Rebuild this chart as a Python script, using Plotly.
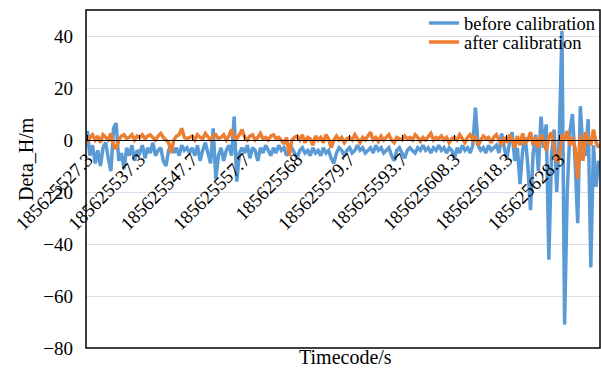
import plotly.graph_objects as go

tick_labels = ["185625527.3", "185625537.3", "185625547.7", "185625557.7", "185625568",
               "185625579.7", "185625593.7", "185625608.3", "185625618.3", "185625628.3"]
label_step = 20

before_calibration = [
    3.5, -6, -2, -9, -4, -10, -3, -1, -7, -12, 4.5, 6.5, -8, -5, -11, -3, -6, -2, -8, -4,
    -5, -2, -7, -3, -5, -1, -6, -4, -3, -8, -10, -4, -2, -5, -3, -6, -2, -4, -3, -5,
    -3, -6, -2, -8, -4, -1, -5, -9, 4.5, -15, -6, -3, -8, -4, -2, -6, 9, -16, -5, -3,
    -5, -2, -7, -3, -4, -8, -3, -5, -2, -4, -6, -3, -5, -2, -4, -3, -6, -4, -3, -5,
    -7, -4, -3, -5, -4, -6, -3, -5, -4, -6, -3, -5, -4, -7, -9, -5, -3, -4, -6, -4,
    -3, -5, -4, -2, -4, -3, -5, -4, -3, -5, -2, -4, -3, -5, -4, -3, -6, -8, -4, -3,
    -5, -7, -4, -3, -4, -5, -3, -4, -2, -4, -3, -5, -3, -4, -2, -4, -3, -5, -3, -4,
    -7, -3, -5, -2, -4, -3, -5, -2, 12.5, -2, -4, -3, -5, -2, -4, -3, -2, -5, 2.5, -3,
    -7, -1, 3, -8, -3, -17, -4, 1, -10, -27, -5, 2, -12, 9, -3, 6, -46, -6, 4, -20,
    2, 42, -71, -20, 3, 10, -8, -32, 13, -4, -6, 8, -49, -2, -18, -8,
]

after_calibration = [
    -1, 1, 2, 0, 1.5, -1, 2, 1, 0, 2.5, -2, -3.5, 0, 1.5, 2, 0.5, 1, 2, 0, 1.5,
    1, 2, 0.5, 1.5, 2, 1, 0, 1.5, 2.5, 1, 0, -1, -5, 0, 1.5, 2, 4.5, 1, 0.5, 1,
    1.5, 0, 2, 1, 0.5, 2.5, 1, 0, 1.5, 2, 0.5, 1, 2, 0, 1.5, 4, 1, 0.5, 2, 4,
    1, 0, 1.5, 2, 0, 1, 2.5, 0.5, 1, 0, 1.5, 2, 0.5, 1, 0, -1.5, 1, -6, 0, 1,
    1.5, 0, 2, -1, 1, 0.5, -2, 1.5, 0, 1, -1, 2, 0.5, -3, 0, 1.5, 0, 1, -1, 0.5,
    1, 0, 2, 0.5, -1, 1, 0, 1.5, 3, 0, 1, -0.5, 1.5, 0, 1, 2, 0, -1, 1, 0.5,
    0, 1.5, 0.5, 1, 0, 2, 1, -0.5, 1, 0, 1.5, 2.5, 0, 1, 0.5, 1.5, 0, 1, -1, 0.5,
    1, 0, 2, 0.5, -1, 1, 2, 0, 1.5, -2, 0, 1.5, 0.5, 1, -1, 1, 2, 0, -2, 1,
    -1, 2, 0, -3, 1.5, -2, 2.5, -1, 0, 3, -2, 1, -3, 2, 0, -4, 1, 3, -2, -8.5,
    -7, 2, 0, 3.5, -2, 1, -3, -15, 2, -8, 3, 0, -2, 4, -1, -3,
]

n = len(before_calibration)
sample_index = list(range(n))
tick_positions = [i * label_step for i in range(len(tick_labels))]

FONT = "Liberation Serif"
BLUE = "#5B9BD5"
ORANGE = "#ED7D31"

fig = go.Figure()
fig.add_trace(go.Scatter(x=sample_index, y=before_calibration, mode="lines",
                         name="before calibration", legend="legend",
                         line=dict(color=BLUE, width=3.5)))
fig.add_trace(go.Scatter(x=sample_index, y=after_calibration, mode="lines",
                         name="after calibration", legend="legend2",
                         line=dict(color=ORANGE, width=3.5)))

legend_common = dict(xanchor="left", yanchor="top", bgcolor="rgba(0,0,0,0)",
                     font=dict(family=FONT, size=18.5), itemwidth=30)

fig.update_layout(
    width=601, height=368,
    margin=dict(l=86, r=1, t=10, b=20),
    paper_bgcolor="white", plot_bgcolor="white",
    font=dict(family=FONT, size=19, color="black"),
    showlegend=True,
    legend=dict(x=(424 - 86) / 514, y=(348 - 4.5) / 338, **legend_common),
    legend2=dict(x=(424 - 86) / 514, y=(348 - 23.5) / 338, **legend_common),
    xaxis=dict(range=[-0.5, n - 0.5], anchor="free", position=80 / 130,
               tickmode="array", tickvals=tick_positions, ticktext=tick_labels,
               tickangle=-45, ticks="inside", ticklen=5, tickcolor="black",
               showline=True, linecolor="black", linewidth=1,
               showgrid=False, zeroline=False,
               tickfont=dict(family=FONT, size=19)),
    yaxis=dict(range=[-80, 50], tickvals=[-80, -60, -40, -20, 0, 20, 40],
               showgrid=True, gridcolor="#D9DFEA", gridwidth=1,
               zeroline=False, showline=False, ticks="",
               ticklabelstandoff=12,
               tickfont=dict(family=FONT, size=19)),
    shapes=[dict(type="rect", xref="paper", yref="paper", x0=0, x1=1, y0=0, y1=1,
                 line=dict(color="black", width=1.5), layer="above")],
    annotations=[
        dict(text="Timecode/s", xref="paper", yref="paper", x=(345 - 86) / 514, y=-9 / 338,
             xanchor="center", yanchor="middle", showarrow=False,
             font=dict(family=FONT, size=20)),
        dict(text="Deta_H/m", xref="paper", yref="paper", x=-60 / 514, y=189 / 338,
             xanchor="center", yanchor="middle", textangle=-90, showarrow=False,
             font=dict(family=FONT, size=20)),
    ],
)

fig.write_html("out.html")
